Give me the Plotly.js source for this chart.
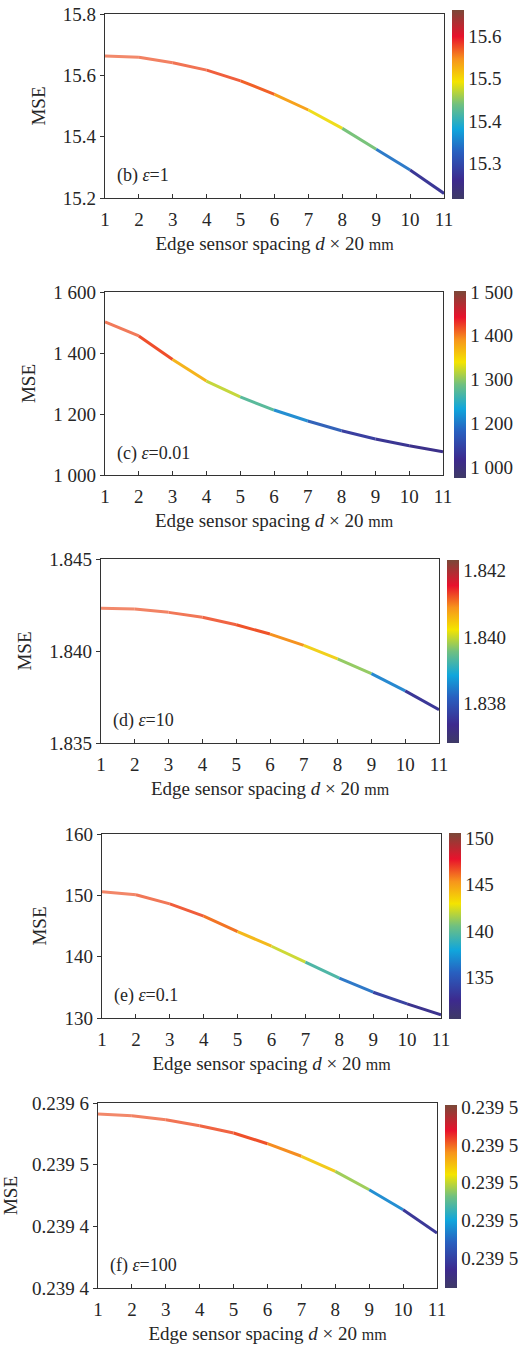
<!DOCTYPE html>
<html>
<head>
<meta charset="utf-8">
<script src="https://cdn.plot.ly/plotly-3.0.1.min.js"></script>
<style>
  html, body { margin: 0; padding: 0; background: #ffffff; }
  #chart { width: 526px; height: 1345px; }
</style>
</head>
<body>
<div id="chart"></div>
<script>
// ---------------- DATA ----------------
const spacing = [1, 2, 3, 4, 5, 6, 7, 8, 9, 10, 11];

const mseB = [15.663, 15.659, 15.641, 15.617, 15.582, 15.538, 15.487, 15.427, 15.359, 15.291, 15.215];
const mseC = [1502, 1456, 1379, 1308, 1256, 1213, 1177, 1145, 1118, 1096, 1076];
const mseD = [1.84232, 1.84228, 1.84210, 1.84183, 1.84143, 1.84092, 1.84031, 1.83957, 1.83877, 1.83783, 1.83681];
const mseE = [150.6, 150.1, 148.6, 146.6, 144.1, 141.7, 139.1, 136.5, 134.2, 132.3, 130.5];
const mseF = [0.239541, 0.2395397, 0.2395365, 0.2395316, 0.2395257, 0.239517, 0.2395068, 0.2394946, 0.2394797, 0.2394635, 0.2394446];

const panelLabels = ['(b) <i>ε</i>=1', '(c) <i>ε</i>=0.01', '(d) <i>ε</i>=10', '(e) <i>ε</i>=0.1', '(f) <i>ε</i>=100'];

const xTickVals = [1, 2, 3, 4, 5, 6, 7, 8, 9, 10, 11];
const xTickText = ['1', '2', '3', '4', '5', '6', '7', '8', '9', '10', '11'];

const yTickValsB = [15.2, 15.4, 15.6, 15.8];
const yTickTextB = ['15.2', '15.4', '15.6', '15.8'];
const yTickValsC = [1000, 1200, 1400, 1600];
const yTickTextC = ['1 000', '1 200', '1 400', '1 600'];
const yTickValsD = [1.835, 1.840, 1.845];
const yTickTextD = ['1.835', '1.840', '1.845'];
const yTickValsE = [130, 140, 150, 160];
const yTickTextE = ['130', '140', '150', '160'];
const yTickValsF = [0.2394, 0.23945, 0.2395, 0.23955];
const yTickTextF = ['0.239 4', '0.239 4', '0.239 5', '0.239 6'];

const cbTickValsB = [15.3, 15.4, 15.5, 15.6];
const cbTickTextB = ['15.3', '15.4', '15.5', '15.6'];
const cbTickValsC = [1100, 1200, 1300, 1400, 1500];
const cbTickTextC = ['1 000', '1 200', '1 300', '1 400', '1 500'];
const cbTickValsD = [1.838, 1.840, 1.842];
const cbTickTextD = ['1.838', '1.840', '1.842'];
const cbTickValsE = [135, 140, 145, 150];
const cbTickTextE = ['135', '140', '145', '150'];
const cbTickValsF = [0.23946, 0.23948, 0.2395, 0.23952, 0.23954];
const cbTickTextF = ['0.239 5', '0.239 5', '0.239 5', '0.239 5', '0.239 5'];

// ---------------- STYLE ----------------
const W = 526, H = 1345;
const FONT = '"Liberation Serif", "Times New Roman", serif';
const TXT = '#262626';
const AX = '#333333';
const FS = 19;

const barScale = [
  [0.00, '#3e3a66'], [0.10, '#3d2a8e'], [0.25, '#2860c0'], [0.37, '#10a6dc'],
  [0.50, '#70c080'], [0.62, '#f4e400'], [0.74, '#f7941c'], [0.86, '#e8122c'], [1.00, '#7a4838']
];
const lineScale = [
  [0.00, '#3c2f86'], [0.12, '#3b3a9c'], [0.24, '#2f78c8'], [0.32, '#1aa6dc'],
  [0.40, '#7cc478'], [0.53, '#eee21c'], [0.66, '#f7a51c'], [0.80, '#ef4e2a'], [1.00, '#f28a6c']
];

function hexToRgb(h) {
  h = h.replace('#', '');
  return [parseInt(h.slice(0, 2), 16), parseInt(h.slice(2, 4), 16), parseInt(h.slice(4, 6), 16)];
}
function colorAt(scale, t) {
  t = Math.max(0, Math.min(1, t));
  for (let i = 0; i < scale.length - 1; i++) {
    const [t0, c0] = scale[i], [t1, c1] = scale[i + 1];
    if (t >= t0 && t <= t1) {
      const f = (t - t0) / (t1 - t0 || 1);
      const a = hexToRgb(c0), b = hexToRgb(c1);
      const c = a.map((v, k) => Math.round(v + (b[k] - v) * f));
      return 'rgb(' + c.join(',') + ')';
    }
  }
  return scale[scale.length - 1][1];
}

// panel geometry in pixels (plot box and colorbar)
const panels = [
  { y: mseB, yRange: [15.2, 15.8], ytv: yTickValsB, ytt: yTickTextB, ctv: cbTickValsB, ctt: cbTickTextB,
    box: [105, 444, 14, 198], cb: [452, 10, 189] },
  { y: mseC, yRange: [1000, 1600], ytv: yTickValsC, ytt: yTickTextC, ctv: cbTickValsC, ctt: cbTickTextC,
    box: [105, 443, 292, 475], cb: [454, 291, 187] },
  { y: mseD, yRange: [1.835, 1.845], ytv: yTickValsD, ytt: yTickTextD, ctv: cbTickValsD, ctt: cbTickTextD,
    box: [101, 439, 559, 743], cb: [447, 560, 183] },
  { y: mseE, yRange: [130, 160], ytv: yTickValsE, ytt: yTickTextE, ctv: cbTickValsE, ctt: cbTickTextE,
    box: [102, 441, 834, 1018], cb: [449, 833, 186] },
  { y: mseF, yRange: [0.2394, 0.23955], ytv: yTickValsF, ytt: yTickTextF, ctv: cbTickValsF, ctt: cbTickTextF,
    box: [98, 437, 1103, 1288], cb: [445, 1105, 183] }
];

const traces = [];
const layout = {
  width: W, height: H,
  margin: { l: 0, r: 0, t: 0, b: 0 },
  paper_bgcolor: '#ffffff', plot_bgcolor: '#ffffff',
  showlegend: false,
  font: { family: FONT, color: TXT, size: FS },
  annotations: []
};

panels.forEach((p, k) => {
  const n = k + 1;
  const xa = 'x' + (n === 1 ? '' : n), ya = 'y' + (n === 1 ? '' : n);
  const xName = 'xaxis' + (n === 1 ? '' : n), yName = 'yaxis' + (n === 1 ? '' : n);
  const ymin = Math.min(...p.y), ymax = Math.max(...p.y);

  // coloured line segments
  for (let i = 0; i < spacing.length - 1; i++) {
    const mid = (p.y[i] + p.y[i + 1]) / 2;
    const t = (mid - ymin) / (ymax - ymin);
    traces.push({
      type: 'scatter', mode: 'lines',
      x: spacing.slice(i, i + 2), y: p.y.slice(i, i + 2),
      xaxis: xa, yaxis: ya,
      line: { color: colorAt(lineScale, t), width: 3 },
      hoverinfo: 'skip'
    });
  }
  // invisible markers carrying the colour bar
  traces.push({
    type: 'scatter', mode: 'markers',
    x: spacing, y: p.y, xaxis: xa, yaxis: ya,
    marker: {
      color: p.y, colorscale: barScale, cmin: ymin, cmax: ymax, size: 1, opacity: 0,
      showscale: true,
      colorbar: {
        x: p.cb[0] / W, xanchor: 'left',
        y: 1 - p.cb[1] / H, yanchor: 'top',
        len: p.cb[2], lenmode: 'pixels',
        thickness: 12, thicknessmode: 'pixels',
        xpad: 0, ypad: 0, outlinewidth: 0,
        ticks: '', ticklen: 0,
        tickvals: p.ctv, ticktext: p.ctt,
        tickfont: { family: FONT, size: FS, color: TXT }
      }
    },
    hoverinfo: 'skip'
  });

  const [x0, x1, y0, y1] = p.box;
  layout[xName] = {
    domain: [x0 / W, x1 / W],
    anchor: ya,
    range: [1, 11],
    tickvals: xTickVals, ticktext: xTickText,
    ticks: 'inside', ticklen: 4, tickwidth: 1, tickcolor: AX,
    ticklabelstandoff: 4,
    showline: true, mirror: true, linecolor: AX, linewidth: 1.3,
    showgrid: false, zeroline: false,
    tickfont: { family: FONT, size: FS, color: TXT },
    title: { text: 'Edge sensor spacing <i>d</i> × 20 <span style="font-size:16px">mm</span>',
             font: { family: FONT, size: FS, color: TXT }, standoff: 7 },
    automargin: false
  };
  layout[yName] = {
    domain: [1 - y1 / H, 1 - y0 / H],
    anchor: xa,
    range: p.yRange,
    tickvals: p.ytv, ticktext: p.ytt,
    ticks: 'outside', ticklen: 4, tickwidth: 1, tickcolor: AX,
    showline: true, mirror: true, linecolor: AX, linewidth: 1.3,
    showgrid: false, zeroline: false,
    tickfont: { family: FONT, size: FS, color: TXT },
    title: { text: 'MSE', font: { family: FONT, size: FS, color: TXT }, standoff: 12 },
    automargin: false
  };
  layout.annotations.push({
    xref: xa + ' domain', yref: ya + ' domain',
    x: 0.03, y: 0.12, xanchor: 'left', yanchor: 'middle',
    text: panelLabels[k], showarrow: false,
    font: { family: FONT, size: 18, color: TXT }
  });
});

Plotly.newPlot('chart', traces, layout, { displayModeBar: false, staticPlot: true });
</script>
</body>
</html>
